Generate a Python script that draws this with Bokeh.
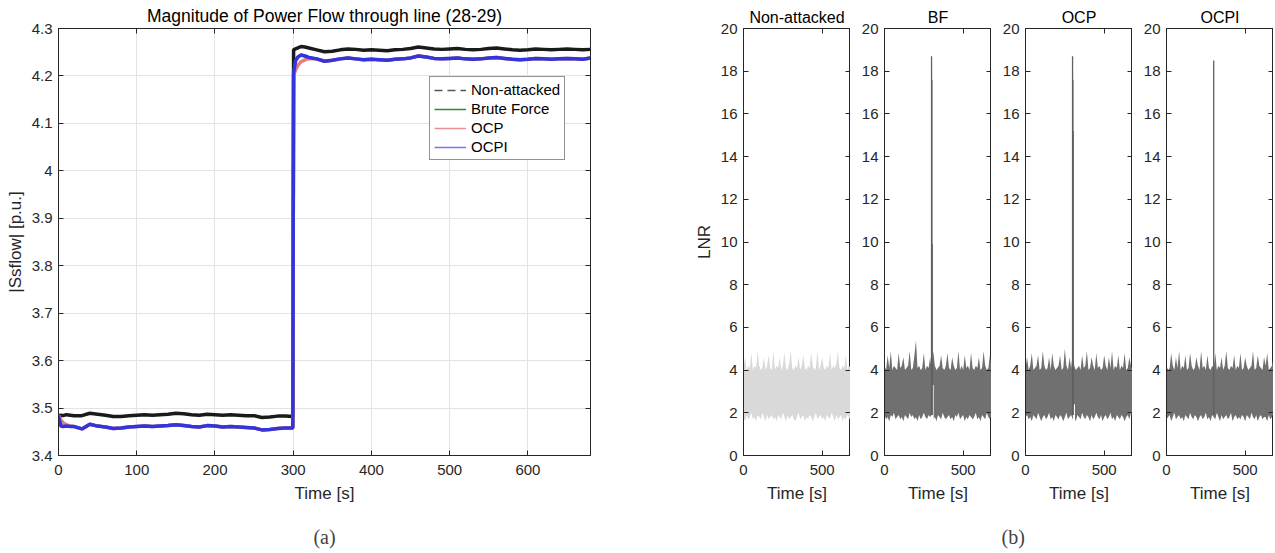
import numpy as np
from bokeh.plotting import figure
from bokeh.models import Range1d, LinearAxis, FixedTicker, Legend, LegendItem, Title
from bokeh.layouts import row
from bokeh.embed import file_html
from bokeh.resources import INLINE

# ---------------- data: panel (a) ----------------
t_a = [0, 3, 6, 10, 15, 20,
       30, 40, 50, 60, 70, 80, 90, 100, 110, 120, 130, 140, 150, 160, 170, 180, 190,
       200, 210, 220, 230, 240, 250, 260, 270, 280, 290,
       299.5,
       300.5, 303, 306, 310, 315, 320,
       330, 340, 350, 360, 370, 380, 390, 400, 410, 420, 430, 440, 450, 460, 470, 480,
       490, 500, 510, 520, 530, 540, 550, 560, 570, 580, 590, 600, 610, 620, 630, 640,
       650, 660, 670, 680]

non_attacked = [3.484, 3.485, 3.484, 3.486, 3.485, 3.484,
                3.484, 3.489, 3.487, 3.485, 3.482, 3.482, 3.484, 3.485, 3.486, 3.485, 3.486, 3.487,
                3.489, 3.488, 3.486, 3.485, 3.487, 3.486, 3.485, 3.486, 3.485, 3.484, 3.484, 3.480,
                3.481, 3.483, 3.483,
                3.482,
                4.255, 4.257, 4.259, 4.262, 4.261, 4.259,
                4.255, 4.251, 4.252, 4.255, 4.257, 4.256, 4.254, 4.255, 4.254, 4.253, 4.255, 4.256,
                4.258, 4.261, 4.259, 4.257, 4.256, 4.257, 4.258, 4.256, 4.255, 4.256, 4.258, 4.259,
                4.257, 4.255, 4.254, 4.255, 4.257, 4.256, 4.255, 4.256, 4.257, 4.256, 4.255, 4.256]

brute_force = [3.484, 3.463, 3.461, 3.462, 3.461, 3.461,
               3.456, 3.466, 3.462, 3.460, 3.457, 3.458, 3.460, 3.461, 3.462, 3.461, 3.462, 3.463,
               3.465, 3.463, 3.461, 3.460, 3.463, 3.462, 3.460, 3.461, 3.460, 3.459, 3.458, 3.454,
               3.455, 3.457, 3.458,
               3.458,
               4.206, 4.232, 4.240, 4.244, 4.242, 4.239,
               4.236, 4.231, 4.233, 4.236, 4.238, 4.236, 4.234, 4.235, 4.234, 4.233, 4.235, 4.236,
               4.238, 4.242, 4.240, 4.237, 4.236, 4.237, 4.238, 4.236, 4.235, 4.236, 4.238, 4.239,
               4.237, 4.235, 4.234, 4.235, 4.237, 4.236, 4.235, 4.236, 4.237, 4.236, 4.235, 4.238]

ocp = [3.485, 3.475, 3.469, 3.465, 3.462, 3.461,
       3.456, 3.466, 3.462, 3.460, 3.457, 3.458, 3.460, 3.461, 3.462, 3.461, 3.462, 3.463,
       3.465, 3.463, 3.461, 3.460, 3.463, 3.462, 3.460, 3.461, 3.460, 3.459, 3.458, 3.454,
       3.455, 3.457, 3.458,
       3.458,
       4.200, 4.212, 4.222, 4.230, 4.234, 4.237,
       4.236, 4.231, 4.233, 4.236, 4.238, 4.236, 4.234, 4.235, 4.234, 4.233, 4.235, 4.236,
       4.238, 4.242, 4.240, 4.237, 4.236, 4.237, 4.238, 4.236, 4.235, 4.236, 4.238, 4.239,
       4.237, 4.235, 4.234, 4.235, 4.237, 4.236, 4.235, 4.236, 4.237, 4.236, 4.235, 4.238]

ocpi = [3.484, 3.462, 3.461, 3.462, 3.461, 3.461,
        3.456, 3.466, 3.462, 3.460, 3.457, 3.458, 3.460, 3.461, 3.462, 3.461, 3.462, 3.463,
        3.465, 3.463, 3.461, 3.460, 3.463, 3.462, 3.460, 3.461, 3.460, 3.459, 3.458, 3.454,
        3.455, 3.457, 3.458,
        3.458,
        4.205, 4.232, 4.240, 4.244, 4.242, 4.239,
        4.236, 4.231, 4.233, 4.236, 4.238, 4.236, 4.234, 4.235, 4.234, 4.233, 4.235, 4.236,
        4.238, 4.242, 4.240, 4.237, 4.236, 4.237, 4.238, 4.236, 4.235, 4.236, 4.238, 4.239,
        4.237, 4.235, 4.234, 4.235, 4.237, 4.236, 4.235, 4.236, 4.237, 4.236, 4.235, 4.238]

series_labels = ["Non-attacked", "Brute Force", "OCP", "OCPI"]
x_ticks_a = [0, 100, 200, 300, 400, 500, 600]
y_ticks_a = [3.4, 3.5, 3.6, 3.7, 3.8, 3.9, 4.0, 4.1, 4.2, 4.3]

# ---------------- data: panel (b), LNR envelopes every 10 s ----------------
panel_titles = ["Non-attacked", "BF", "OCP", "OCPI"]

na_hi = [4.1, 4.6, 4.0, 4.2, 4.1, 4.8, 4.0, 4.2, 4.1, 4.9,
         4.2, 4.0, 4.1, 4.6, 4.0, 4.2, 4.7, 4.1, 4.0, 4.9,
         4.0, 4.2, 4.1, 4.6, 4.0, 4.2, 4.8, 4.1, 4.0, 4.3,
         4.9, 4.1, 4.0, 4.2, 4.1, 4.6, 4.0, 4.2, 4.7, 4.1,
         4.0, 4.2, 4.1, 4.8, 4.2, 4.0, 4.1, 4.9, 4.0, 4.2,
         4.6, 4.1, 4.0, 4.2, 4.1, 4.8, 4.0, 4.2, 4.1, 4.3,
         4.9, 4.1, 4.0, 4.2, 4.1, 4.7, 4.0, 4.2, 4.1]
na_lo = [1.8, 1.6, 1.9, 1.7, 1.8, 2.0, 1.7, 1.8, 1.6, 1.9,
         1.8, 1.7, 2.0, 1.8, 1.6, 1.9, 1.7, 1.8, 1.9, 1.7,
         1.8, 1.6, 1.9, 1.8, 1.7, 2.0, 1.8, 1.6, 1.9, 1.7,
         1.8, 1.9, 1.7, 1.6, 1.8, 2.0, 1.7, 1.8, 1.9, 1.6,
         1.8, 1.7, 1.9, 1.8, 1.6, 1.8, 2.0, 1.7, 1.8, 1.9,
         1.7, 1.8, 1.6, 1.9, 1.8, 1.7, 2.0, 1.8, 1.6, 1.9,
         1.7, 1.8, 1.9, 1.6, 1.8, 1.7, 1.9, 1.8, 1.6]
bf_hi = [4.2, 4.0, 4.7, 4.1, 4.9, 4.0, 4.2, 4.1, 4.0, 4.8,
         4.1, 4.2, 4.6, 4.0, 4.1, 4.2, 4.9, 4.0, 4.1, 4.7,
         5.4, 4.1, 4.2, 4.0, 4.1, 4.8, 4.0, 4.2, 4.1, 4.6,
         4.0, 4.9, 4.2, 4.0, 4.1, 4.2, 4.7, 4.1, 4.0, 4.2,
         4.8, 4.1, 4.0, 4.6, 4.2, 4.0, 4.1, 4.9, 4.0, 4.2,
         4.0, 4.7, 4.1, 4.2, 4.0, 4.8, 4.1, 4.0, 4.2, 4.1,
         4.6, 4.0, 4.1, 4.9, 4.2, 4.0, 4.1, 4.7, 4.1]
bf_lo = [1.9, 1.7, 1.8, 1.6, 1.9, 1.8, 2.0, 1.7, 1.8, 1.9,
         1.7, 1.8, 1.6, 1.9, 1.8, 1.7, 2.0, 1.8, 1.9, 1.7,
         1.8, 1.6, 1.9, 1.7, 1.8, 2.0, 1.8, 1.7, 1.9, 1.8,
         1.9, 1.7, 1.8, 1.6, 1.9, 1.8, 1.7, 2.0, 1.8, 1.7,
         1.8, 1.9, 1.7, 1.8, 1.6, 1.9, 1.8, 2.0, 1.7, 1.8,
         1.9, 1.6, 1.8, 1.7, 1.9, 1.8, 1.7, 1.8, 2.0, 1.7,
         1.8, 1.6, 1.9, 1.8, 1.7, 2.0, 1.8, 1.7, 1.9]
ocp_hi = [4.1, 4.6, 4.0, 4.2, 4.8, 4.0, 4.1, 4.2, 4.7, 4.0,
          4.1, 4.9, 4.2, 4.0, 4.1, 4.6, 4.0, 4.8, 4.2, 4.0,
          4.1, 4.2, 4.7, 4.0, 4.1, 5.0, 4.2, 4.0, 4.6, 4.1,
          4.8, 4.2, 4.0, 4.1, 4.2, 4.0, 4.7, 4.1, 4.2, 4.9,
          4.0, 4.1, 4.6, 4.2, 4.0, 4.8, 4.1, 4.2, 4.0, 4.1,
          4.7, 4.2, 4.0, 4.6, 4.1, 4.9, 4.0, 4.2, 4.1, 4.7,
          4.0, 4.2, 4.1, 4.8, 4.0, 4.1, 4.6, 4.2, 4.0]
ocp_lo = [1.8, 1.9, 1.7, 1.8, 1.6, 1.9, 1.8, 1.7, 2.0, 1.8,
          1.6, 1.8, 1.9, 1.7, 1.8, 2.0, 1.7, 1.8, 1.6, 1.9,
          1.8, 1.7, 1.9, 1.8, 1.6, 1.8, 2.0, 1.7, 1.8, 1.9,
          1.7, 1.8, 1.6, 1.9, 1.8, 1.7, 2.0, 1.8, 1.7, 1.9,
          1.8, 1.6, 1.9, 1.7, 1.8, 2.0, 1.8, 1.7, 1.9, 1.6,
          1.8, 1.9, 1.7, 1.8, 2.0, 1.7, 1.8, 1.6, 1.9, 1.8,
          1.7, 1.9, 1.8, 1.6, 1.8, 1.9, 1.7, 2.0, 1.8]
ocpi_hi = [4.2, 4.0, 4.1, 4.8, 4.2, 4.0, 4.6, 4.1, 4.9, 4.0,
           4.2, 4.1, 4.7, 4.0, 4.1, 4.8, 4.2, 4.0, 4.1, 4.6,
           4.2, 4.0, 4.9, 4.1, 4.2, 4.0, 4.7, 4.1, 4.0, 4.2,
           4.1, 4.8, 4.0, 4.2, 4.1, 4.6, 4.0, 4.2, 4.9, 4.1,
           4.0, 4.2, 4.1, 4.7, 4.0, 4.2, 4.1, 4.8, 4.0, 4.1,
           4.6, 4.2, 4.0, 4.1, 4.2, 4.9, 4.0, 4.1, 4.7, 4.2,
           4.1, 4.0, 4.6, 4.2, 4.8, 4.0, 4.1, 4.2, 4.6]
ocpi_lo = [1.7, 1.8, 1.9, 1.6, 1.8, 2.0, 1.7, 1.8, 1.9, 1.7,
           1.8, 1.6, 1.9, 1.8, 1.7, 2.0, 1.8, 1.7, 1.9, 1.8,
           1.6, 1.8, 1.9, 1.7, 1.8, 2.0, 1.7, 1.8, 1.6, 1.9,
           1.8, 1.7, 2.0, 1.8, 1.6, 1.9, 1.7, 1.8, 1.9, 1.7,
           1.8, 2.0, 1.6, 1.8, 1.9, 1.7, 1.8, 1.7, 1.9, 1.8,
           1.6, 1.9, 1.8, 1.7, 2.0, 1.8, 1.7, 1.9, 1.6, 1.8,
           1.9, 1.7, 1.8, 1.8, 1.6, 1.9, 1.7, 1.8, 2.0]

# spikes at the attack instant (t, top) and white notches (t, top)
spike_t = [[], [299, 301, 303], [299, 301, 303], [300]]
spike_top = [[], [18.7, 17.6, 9.9], [18.7, 17.6, 15.2], [18.5]]
notch_t = [[], [306], [308], []]
notch_top = [[], [3.3], [2.4], []]

x_ticks_b = [0, 500]
y_ticks_b = [0, 2, 4, 6, 8, 10, 12, 14, 16, 18, 20]

# ---------------- styling helpers ----------------
FONT = "Liberation Sans"
AX = "#262626"
TICK_FS = "15px"
LABEL_FS = "17px"


def style_axis(ax, ticks, tick_standoff, label_standoff):
    ax.ticker = FixedTicker(ticks=ticks)
    ax.major_tick_in = 5
    ax.major_tick_out = 0
    ax.minor_tick_line_color = None
    ax.axis_line_color = AX
    ax.major_tick_line_color = AX
    ax.major_label_text_font = FONT
    ax.major_label_text_font_size = TICK_FS
    ax.major_label_text_color = AX
    ax.major_label_standoff = tick_standoff
    ax.axis_label_text_font = FONT
    ax.axis_label_text_font_size = LABEL_FS
    ax.axis_label_text_font_style = "normal"
    ax.axis_label_text_color = AX
    ax.axis_label_standoff = label_standoff


def mirror_axes(p, xt, yt):
    for loc, ticks in (("right", yt), ("above", xt)):
        ax = LinearAxis(ticker=FixedTicker(ticks=ticks),
                        major_label_overrides={t: "" for t in ticks},
                        major_tick_in=5, major_tick_out=0, minor_tick_line_color=None,
                        axis_line_color=AX, major_tick_line_color=AX, major_label_standoff=0)
        p.add_layout(ax, loc)


def style_title(p, size):
    p.title.text_font = FONT
    p.title.text_font_size = size
    p.title.text_font_style = "normal"
    p.title.text_color = "black"
    p.title.align = "center"
    p.title.standoff = 6


# ---------------- panel (a) ----------------
pa = figure(frame_width=532, frame_height=427, output_backend="svg", toolbar_location=None,
            x_range=Range1d(0, 680), y_range=Range1d(3.4, 4.3),
            title="Magnitude of Power Flow through line (28-29)",
            min_border_left=58, min_border_right=101, min_border_top=26, min_border_bottom=97)
style_title(pa, "17.5px")
style_axis(pa.xaxis[0], x_ticks_a, 9, 6)
style_axis(pa.yaxis[0], y_ticks_a, 6, 4)
pa.yaxis[0].major_label_overrides = {4.0: "4"}
pa.xaxis[0].axis_label = "Time [s]"
pa.yaxis[0].axis_label = "|Ssflow| [p.u.]"
mirror_axes(pa, x_ticks_a, y_ticks_a)
pa.xgrid.ticker = FixedTicker(ticks=x_ticks_a)
pa.ygrid.ticker = FixedTicker(ticks=y_ticks_a)
pa.grid.grid_line_color = "#e3e3e3"
pa.outline_line_color = AX

colors = ["#1a1a1a", "#217a21", "#e57e80", "#3434dc"]
legend_colors = ["#555555", "#2e8b2e", "#ec8f93", "#7676f5"]
for vals, c, w in zip([non_attacked, brute_force, ocp, ocpi], colors, [3.5, 3.0, 3.5, 3.5]):
    pa.line(t_a, vals, line_color=c, line_width=w)

proxies = []
for i, c in enumerate(legend_colors):
    dash = "8 5" if i == 0 else "solid"
    proxies.append(pa.line([np.nan], [np.nan], line_color=c, line_width=1.3, line_dash=dash))
legend = Legend(items=[LegendItem(label=l, renderers=[r]) for l, r in zip(series_labels, proxies)],
                location=(371, 295), border_line_color=AX, border_line_width=1,
                background_fill_color="white", background_fill_alpha=1,
                label_text_font=FONT, label_text_font_size="15px", label_text_color="black",
                glyph_width=32, glyph_height=12, label_height=12, spacing=2, padding=4,
                margin=0, label_standoff=5)
pa.add_layout(legend)
pa.add_layout(Title(text="(a)", align="center", text_font="Liberation Serif",
                    text_font_size="20px", text_font_style="normal", standoff=37), "below")

# ---------------- panel (b) ----------------
t_lnr = np.arange(len(na_hi)) * 10
his = [na_hi, bf_hi, ocp_hi, ocpi_hi]
los = [na_lo, bf_lo, ocp_lo, ocpi_lo]
band_colors = ["#d9d9d9", "#707070", "#707070", "#707070"]
left_borders = [52, 34, 34, 34]

figs = [pa]
for k in range(4):
    p = figure(frame_width=107, frame_height=427, output_backend="svg", toolbar_location=None,
               x_range=Range1d(0, 680), y_range=Range1d(0, 20), title=panel_titles[k],
               min_border_left=left_borders[k], min_border_right=0, min_border_top=26,
               min_border_bottom=97)
    style_title(p, "16px")
    style_axis(p.xaxis[0], x_ticks_b, 9, 6)
    style_axis(p.yaxis[0], y_ticks_b, 6, 4)
    p.xaxis[0].axis_label = "Time [s]"
    if k == 0:
        p.yaxis[0].axis_label = "LNR"
    mirror_axes(p, x_ticks_b, y_ticks_b)
    p.grid.grid_line_color = None
    p.outline_line_color = AX
    p.varea(x=t_lnr, y1=los[k], y2=his[k], fill_color=band_colors[k], fill_alpha=1)
    if notch_t[k]:
        p.segment(x0=notch_t[k], y0=[1.4] * len(notch_t[k]), x1=notch_t[k], y1=notch_top[k],
                  line_color="white", line_width=2)
    if spike_t[k]:
        p.segment(x0=spike_t[k], y0=[1.9] * len(spike_t[k]), x1=spike_t[k], y1=spike_top[k],
                  line_color="#606060", line_width=1.3)
    if k == 2:
        p.add_layout(Title(text="(b)", align="left", offset=-24, text_font="Liberation Serif",
                           text_font_size="20px", text_font_style="normal", standoff=37), "below")
    figs.append(p)

layout = row(*figs, spacing=0)
open("out.html", "w").write(file_html(layout, INLINE))
